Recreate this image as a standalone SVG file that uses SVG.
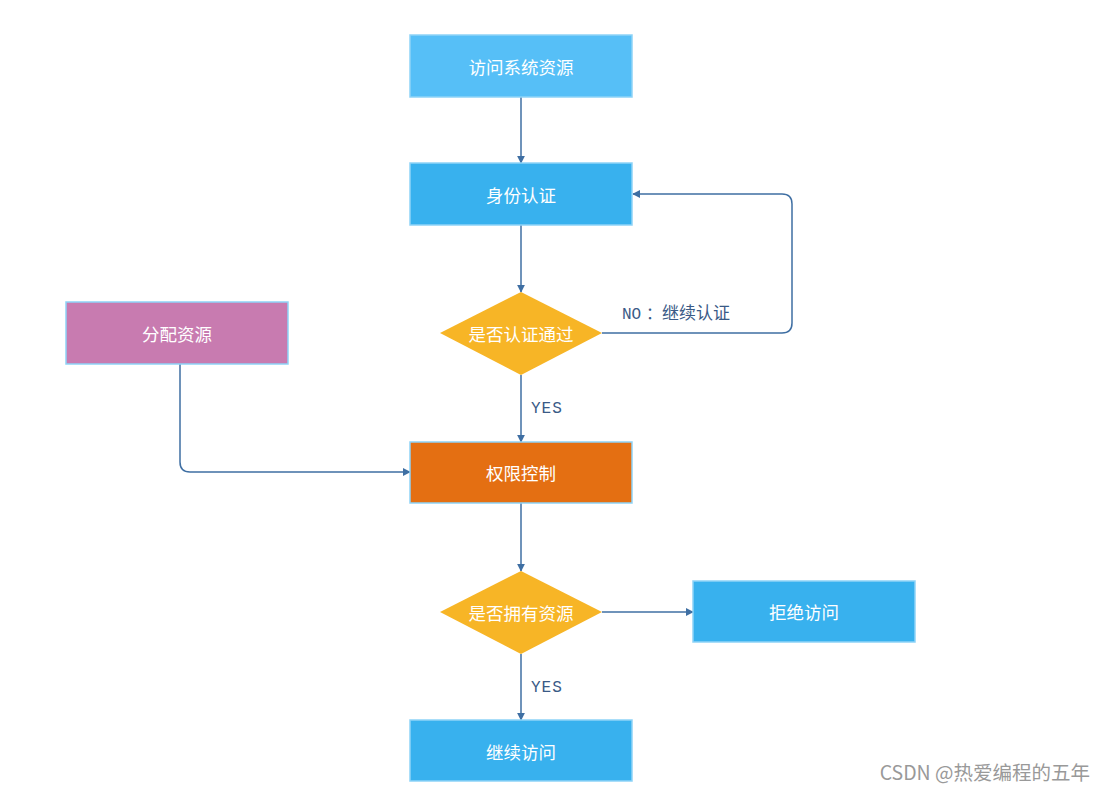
<svg xmlns="http://www.w3.org/2000/svg" width="1106" height="793" viewBox="0 0 1106 793">
<style>
.box{stroke:#8ed3f7;stroke-width:1.5}
.lbl{font-family:"Noto Sans CJK SC","Liberation Sans",sans-serif;font-size:17.5px;fill:#ffffff;text-anchor:middle;dominant-baseline:central}
.edge{fill:none;stroke:#3f6fa3;stroke-width:1.5}
.etxt{font-family:"Liberation Mono","Noto Sans CJK SC",monospace;font-size:16px;fill:#3a5a86}
</style>
<defs>
<marker id="arr" viewBox="0 0 10 10" refX="9" refY="5" markerWidth="8" markerHeight="8" markerUnits="userSpaceOnUse" orient="auto">
<path d="M0,0 L10,5 L0,10 z" fill="#3f6fa3"/>
</marker>
</defs>
<rect width="1106" height="793" fill="#ffffff"/>
<g id="connectors">
<path class="edge" d="M521,97 V163" marker-end="url(#arr)"/>
<path class="edge" d="M521,225 V292" marker-end="url(#arr)"/>
<path class="edge" d="M602,333 H782 Q792,333 792,323 V204 Q792,194 782,194 H633" marker-end="url(#arr)"/>
<path class="edge" d="M521,375 V442" marker-end="url(#arr)"/>
<path class="edge" d="M180,364 V462 Q180,472 190,472 H410" marker-end="url(#arr)"/>
<path class="edge" d="M521,503 V571" marker-end="url(#arr)"/>
<path class="edge" d="M602,612 H693" marker-end="url(#arr)"/>
<path class="edge" d="M521,654 V720" marker-end="url(#arr)"/>
<text class="etxt" x="622" y="319">NO<tspan x="646">：</tspan><tspan x="662" font-size="17">继续认证</tspan></text>
<text class="etxt" x="531" y="413" letter-spacing="1">YES</text>
<text class="etxt" x="531" y="692" letter-spacing="1">YES</text>
</g>
<g id="n1"><rect class="box" x="410" y="35" width="222" height="62" fill="#56bff7"/><text class="lbl" x="521" y="66">访问系统资源</text></g>
<g id="n2"><rect class="box" x="410" y="163" width="222" height="62" fill="#38b1ee"/><text class="lbl" x="521" y="194">身份认证</text></g>
<g id="n3"><polygon points="521,292 602,333 521,375 440,333" fill="#f7b526"/><text class="lbl" x="521" y="333">是否认证通过</text></g>
<g id="n4"><rect class="box" x="66" y="302" width="222" height="62" fill="#c87bb0"/><text class="lbl" x="177" y="333">分配资源</text></g>
<g id="n5"><rect class="box" x="410" y="442" width="222" height="61" fill="#e46f12"/><text class="lbl" x="521" y="472">权限控制</text></g>
<g id="n6"><polygon points="521,571 602,612 521,654 440,612" fill="#f7b526"/><text class="lbl" x="521" y="612">是否拥有资源</text></g>
<g id="n7"><rect class="box" x="693" y="581" width="222" height="61" fill="#38b1ee"/><text class="lbl" x="804" y="611">拒绝访问</text></g>
<g id="n8"><rect class="box" x="410" y="720" width="222" height="61" fill="#38b1ee"/><text class="lbl" x="521" y="751">继续访问</text></g>
<text x="1090" y="780" text-anchor="end" font-family="Noto Sans CJK SC,Liberation Sans,sans-serif" font-size="19.5" fill="#999999">CSDN @热爱编程的五年</text>
</svg>
